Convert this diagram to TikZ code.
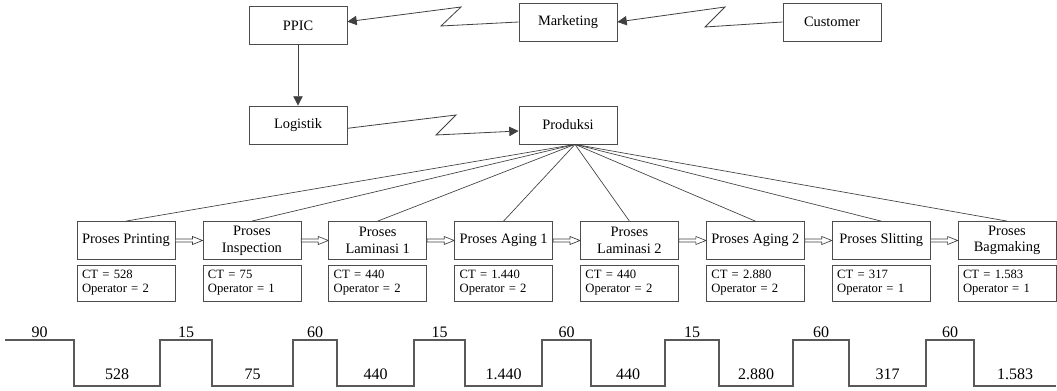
\documentclass[tikz,border=0pt]{standalone}
\usepackage{fontspec}
\setmainfont{Liberation Serif}
\usetikzlibrary{arrows.meta,calc}
\begin{document}
\begin{tikzpicture}[x=0.75pt,y=-0.75pt,
  box/.style={draw=black!70, line width=0.6pt, fill=white, minimum width=73.5pt,
    minimum height=28.5pt, inner sep=1pt, align=center,
    font=\fontsize{10.8}{12.5}\selectfont},
  ctbox/.style={draw=black!70, line width=0.6pt, fill=white, minimum width=73.5pt,
    minimum height=27pt, inner xsep=3.75pt, inner ysep=0pt, text width=66pt,
    align=left, font=\fontsize{9.5}{10.5}\selectfont},
  conn/.style={draw=black!75, line width=0.6pt, -{Triangle[length=7pt,width=7pt]}},
  fan/.style={draw=black!75, line width=0.5pt},
  push/.style={draw=black!75, line width=0.5pt, fill=white,
    to path={let \p1=(\tikztostart), \p2=(\tikztotarget) in
      (\x1,\y1+1.1pt) -- (\x2-7.5pt,\y1+1.1pt) -- (\x2-7.5pt,\y1+3pt) -- (\x2,\y1)
      -- (\x2-7.5pt,\y1-3pt) -- (\x2-7.5pt,\y1-1.1pt) -- (\x1,\y1-1.1pt) -- cycle}},
  timeline/.style={draw=black!65, line width=0.8pt},
  tlab/.style={above, inner sep=1.5pt, font=\fontsize{12}{14}\selectfont},
  blab/.style={above, inner sep=4.5pt, font=\fontsize{12}{14}\selectfont}
]
\useasboundingbox (0,0) rectangle (1057,391);

% information flow boxes
\node[box] (ppic) at (298,25.5) {PPIC};
\node[box] (mkt)  at (568,22)   {Marketing};
\node[box] (cust) at (832,22)   {Customer};
\node[box] (log)  at (298,125)  {Logistik};
\node[box] (prod) at (568,125)  {Produksi};

% electronic (lightning) links and the plain link
\coordinate (ka) at (705,27);  \coordinate (kb) at (725,7);
\coordinate (ma) at (441,26);  \coordinate (mb) at (461,7);
\coordinate (la) at (456,115); \coordinate (lb) at (436,135);
\draw[conn] (cust.west) -- (ka) -- (kb) -- (mkt.east);
\draw[conn] (mkt.west) -- (ma) -- (mb) -- ([yshift=2.85pt]ppic.east);
\draw[conn] (ppic.south) -- (log.north);
\draw[conn] ([yshift=-2.5pt]log.east) -- (la) -- (lb) -- ([yshift=-4.5pt]prod.west);

% process boxes
\node[box] (p1) at (126,240.5)    {Proses Printing};
\node[box] (p2) at (251.9,240.5)  {Proses\\Inspection};
\node[box] (p3) at (377.7,240.5)  {Proses\\Laminasi 1};
\node[box] (p4) at (503.6,240.5)  {Proses Aging 1};
\node[box] (p5) at (629.4,240.5)  {Proses\\Laminasi 2};
\node[box] (p6) at (755.3,240.5)  {Proses Aging 2};
\node[box] (p7) at (881.2,240.5)  {Proses Slitting};
\node[box] (p8) at (1007,240.5)   {Proses\\Bagmaking};

% data boxes
\node[ctbox] (c1) at (126,283)   {CT = 528\\Operator = 2};
\node[ctbox] (c2) at (251.9,283) {CT = 75\\Operator = 1};
\node[ctbox] (c3) at (377.7,283) {CT = 440\\Operator = 2};
\node[ctbox] (c4) at (503.6,283) {CT = 1.440\\Operator = 2};
\node[ctbox] (c5) at (629.4,283) {CT = 440\\Operator = 2};
\node[ctbox] (c6) at (755.3,283) {CT = 2.880\\Operator = 2};
\node[ctbox] (c7) at (881.2,283) {CT = 317\\Operator = 1};
\node[ctbox] (c8) at (1007,283)  {CT = 1.583\\Operator = 1};

% fan from Produksi to every process
\coordinate (hub) at ([xshift=5.25pt]prod.south);
\foreach \i in {1,...,8} \draw[fan] (hub) -- (p\i.north);

% push arrows between processes
\foreach \i/\j in {1/2,2/3,3/4,4/5,5/6,6/7,7/8}
  \draw[push] (p\i.east) to (p\j.west);

% time line
\draw[timeline] (5,340) -- node[tlab]{90} (74,340) -- (74,386)
  -- node[blab]{528} (160,386) -- (160,340)
  -- node[tlab]{15} (212,340) -- (212,386)
  -- node[blab]{75} (293,386) -- (293,340)
  -- node[tlab]{60} (337,340) -- (337,386)
  -- node[blab]{440} (414,386) -- (414,340)
  -- node[tlab]{15} (465,340) -- (465,386)
  -- node[blab]{1.440} (542,386) -- (542,340)
  -- node[tlab]{60} (591,340) -- (591,386)
  -- node[blab]{440} (665,386) -- (665,340)
  -- node[tlab]{15} (719,340) -- (719,386)
  -- node[blab]{2.880} (793,386) -- (793,340)
  -- node[tlab]{60} (849,340) -- (849,386)
  -- node[blab]{317} (926,386) -- (926,340)
  -- node[tlab]{60} (974,340) -- (974,386)
  -- node[blab]{1.583} (1056,386);
\end{tikzpicture}
\end{document}
